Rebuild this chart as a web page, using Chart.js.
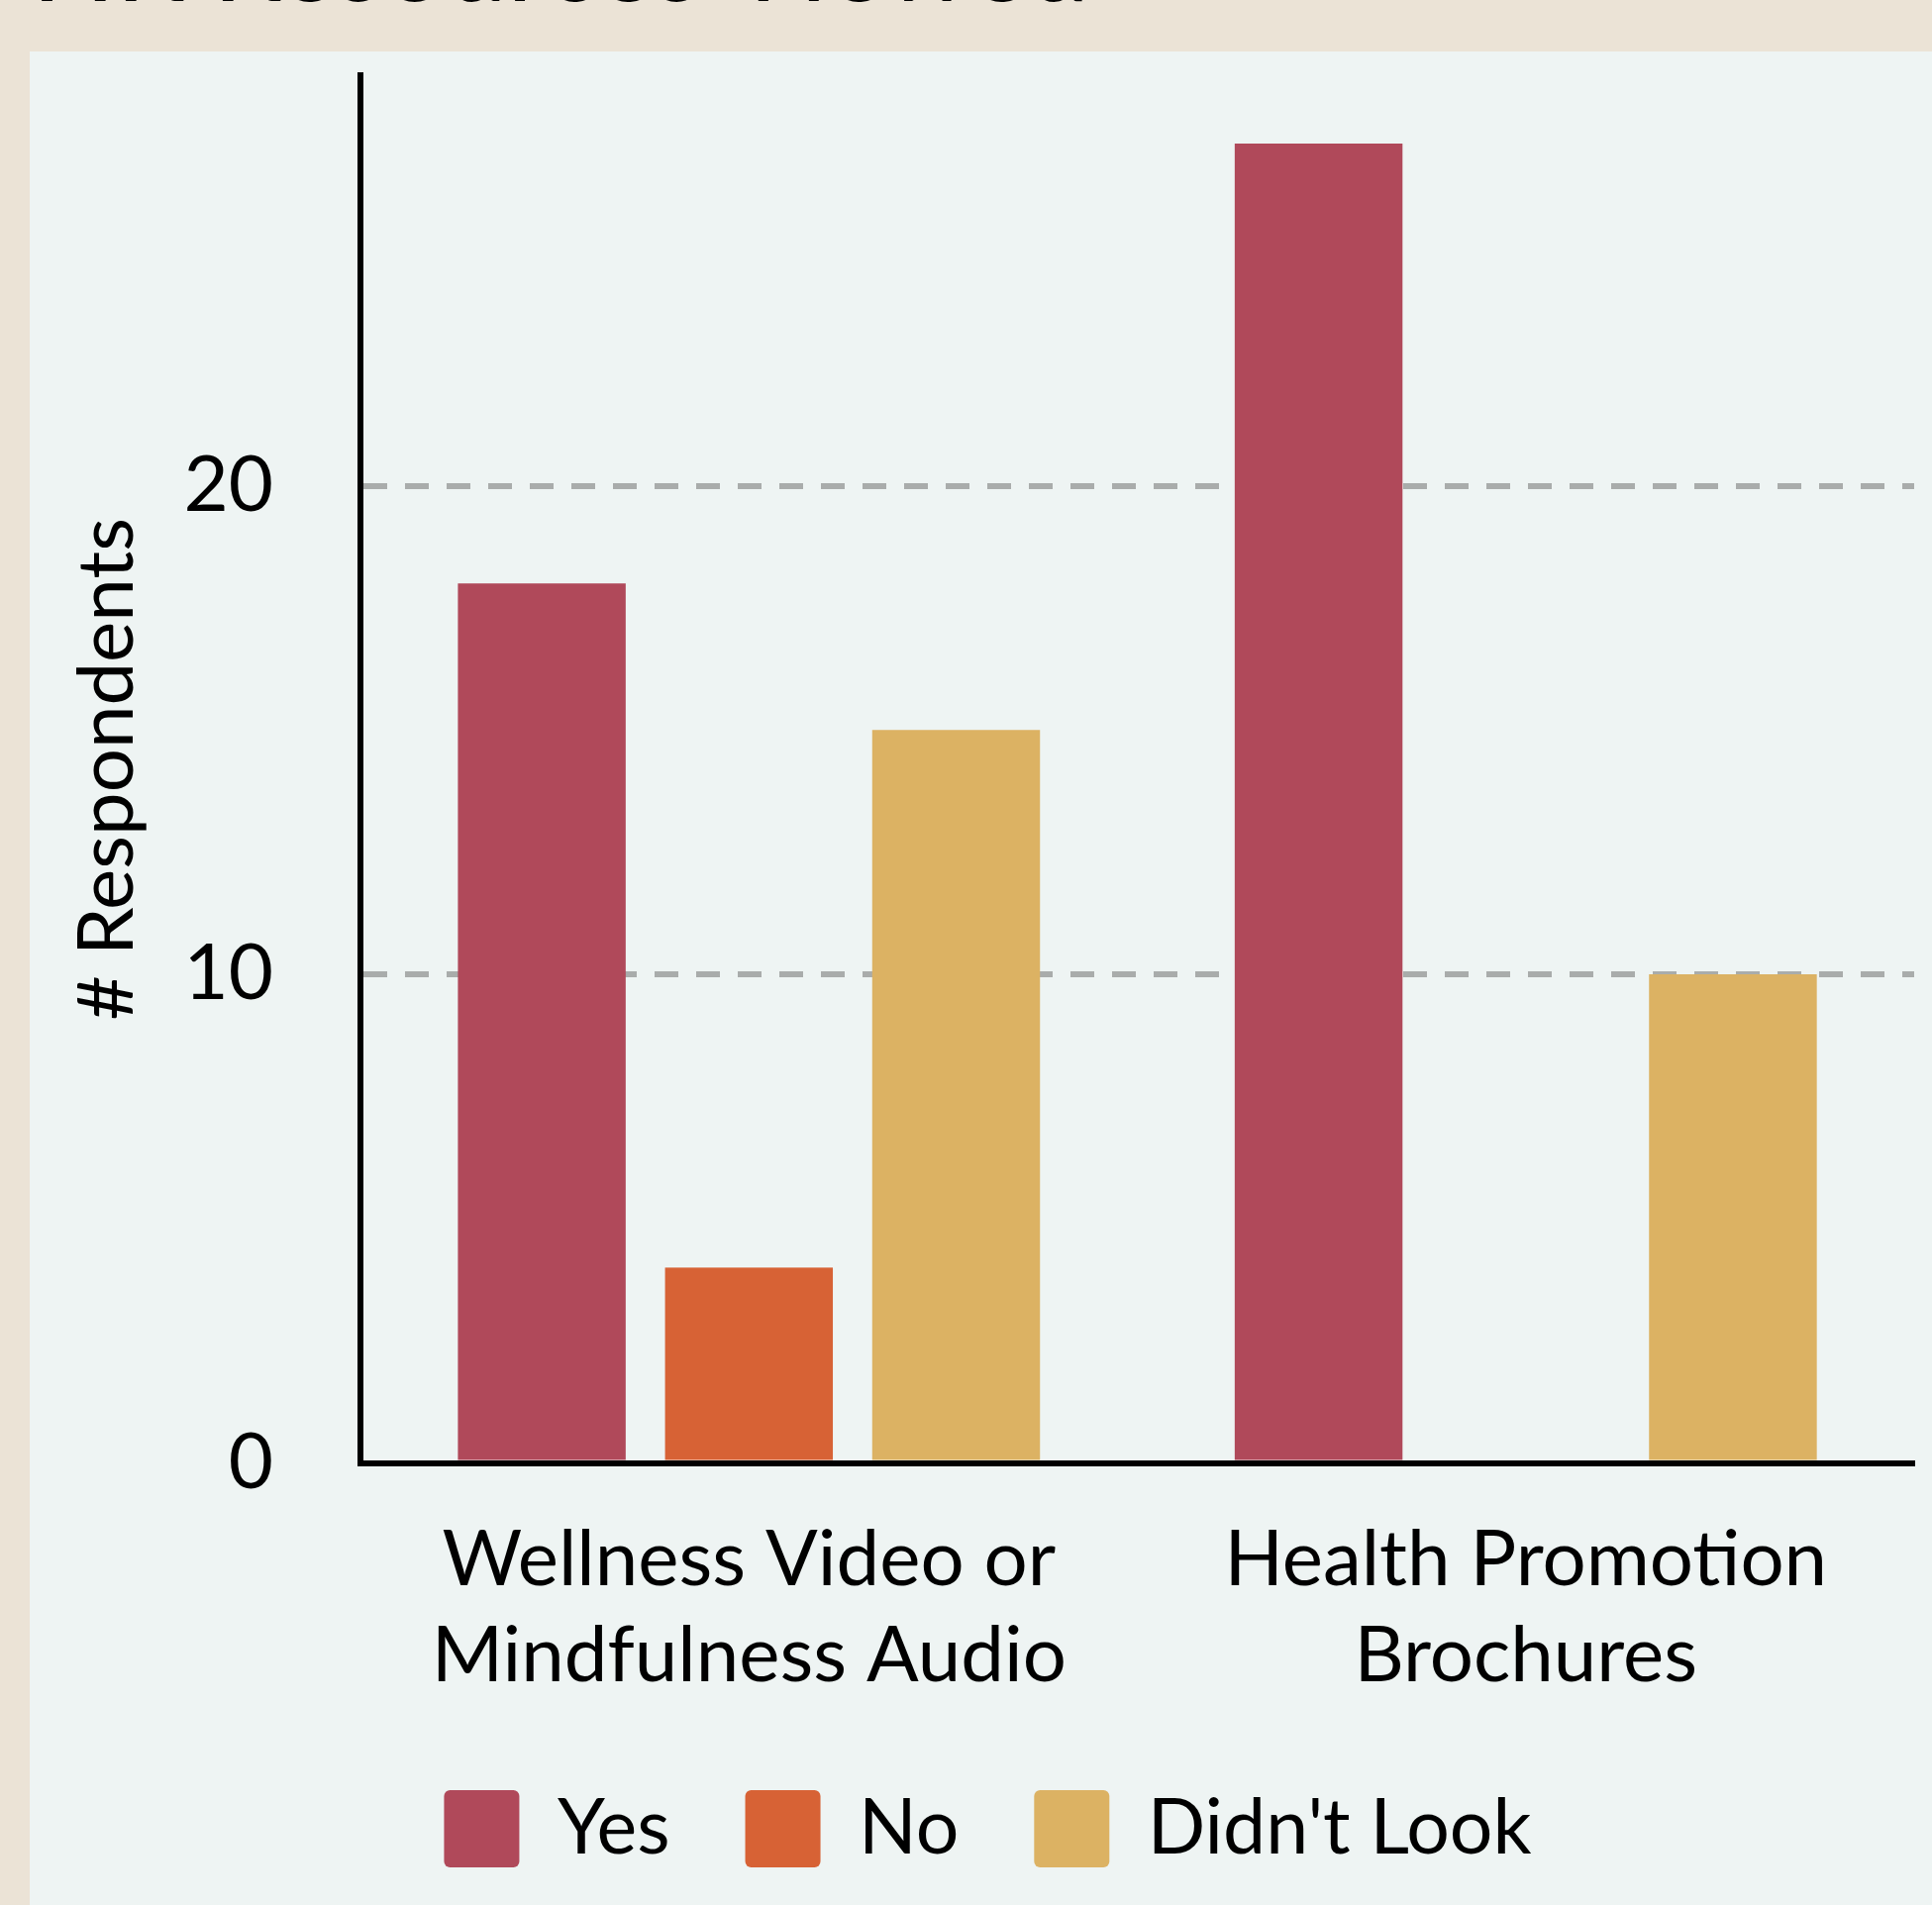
<!DOCTYPE html>
<html>
<head>
<meta charset="utf-8">
<script src="https://cdn.jsdelivr.net/npm/chart.js@4/dist/chart.umd.min.js"></script>
<style>
  html, body { margin: 0; padding: 0; }
  body { width: 1951px; height: 1924px; background: #ebe3d6; position: relative; overflow: hidden; font-family: 'Lato', sans-serif; }
  #title { position: absolute; left: 32px; top: -97px; font-size: 111px; line-height: 1; color: #000; white-space: nowrap; }
  #panel { position: absolute; left: 30px; top: 52px; width: 1921px; height: 1872px; background: #eef4f3; }
</style>
</head>
<body>
<div id="title">HR Resources Viewed</div>
<div id="panel"><canvas id="chart" width="1921" height="1872"></canvas></div>
<script>
// categories (two-line labels)
const categories = [["Wellness Video or", "Mindfulness Audio"], ["Health Promotion", "Brochures"]];
// responses per resource
const yesValues = [18, 27];
const noValues = [4, 0];
const didntLookValues = [15, 10];
const yTicks = [0, 10, 20];

const colYes = '#b0495a';
const colNo = '#d76235';
const colDidnt = '#dcb263';

const ctx = document.getElementById("chart");

let chart = new Chart(ctx, {
    type: 'bar',
    data: {
        labels: categories,
        datasets: [
            { label: 'Yes', data: yesValues, backgroundColor: colYes, borderWidth: 0 },
            { label: 'No', data: noValues, backgroundColor: colNo, borderWidth: 0 },
            { label: "Didn't Look", data: didntLookValues, backgroundColor: colDidnt, borderWidth: 0 }
        ]
    },
    options: {
        responsive: false,
        animation: false,
        categoryPercentage: 0.8,
        barPercentage: 0.81,
        layout: { padding: { top: 24, left: 32, right: 18, bottom: 28 } },
        plugins: {
            tooltip: { enabled: false },
            legend: {
                position: 'bottom',
                maxHeight: 180,
                labels: {
                    font: { family: 'Lato', size: 77 },
                    color: '#000',
                    boxWidth: 76,
                    boxHeight: 78,
                    padding: 76,
                    useBorderRadius: true,
                    borderRadius: 6
                }
            }
        },
        scales: {
            x: {
                grid: { display: false },
                border: { display: true, color: '#000', width: 6 },
                ticks: {
                    color: '#000',
                    padding: 42,
                    maxRotation: 0,
                    font: { family: 'Lato', size: 78, lineHeight: 1.24 }
                },
                // chart.js counts tick padding twice when sizing
                afterFit: (scale) => {
                    scale.height -= 31;
                    scale.paddingLeft = 0;
                    scale.paddingRight = 0;
                }
            },
            y: {
                min: 0,
                max: 28.4,
                afterBuildTicks: (axis) => {
                    axis.ticks = yTicks.map(v => ({ value: v }));
                },
                afterFit: (scale) => {
                    scale.width -= 88;
                    scale.paddingTop = 0;
                    scale.paddingBottom = 0;
                },
                grid: {
                    drawTicks: false,
                    lineWidth: 6,
                    color: (c) => (c.tick && c.tick.value > 0 ? '#a9acab' : 'rgba(0,0,0,0)')
                },
                border: { display: true, color: '#000', width: 6, dash: [24, 18] },
                ticks: {
                    color: '#000',
                    padding: 88,
                    font: { family: 'Lato', size: 78 }
                },
                title: {
                    display: true,
                    text: '# Respondents',
                    color: '#000',
                    padding: { top: 0, bottom: 30 },
                    font: { family: 'Lato', size: 78 }
                }
            }
        }
    }
});
</script>
</body>
</html>
